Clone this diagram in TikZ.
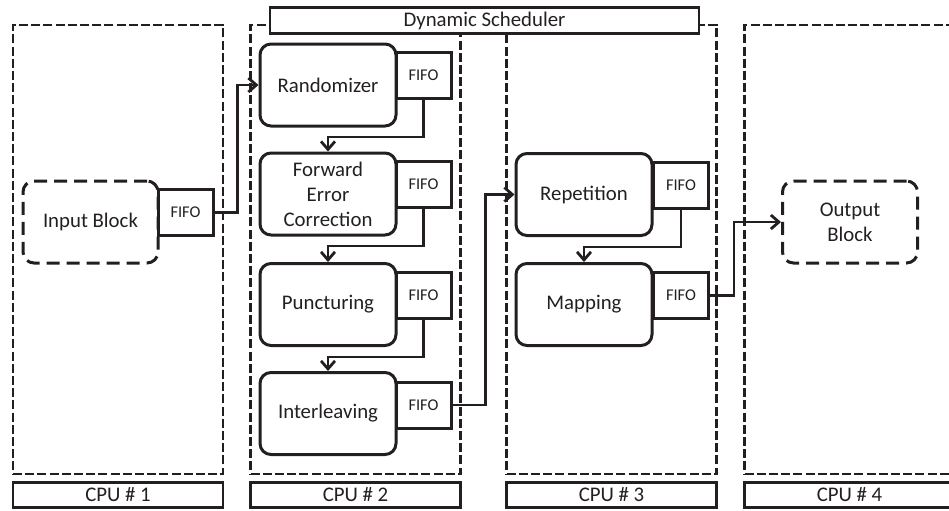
\documentclass[tikz,border=0pt]{standalone}
\usepackage{fontspec}
\setmainfont{Carlito}
\usepackage{tikz}
\usetikzlibrary{arrows.meta,positioning}
\definecolor{ink}{RGB}{35,31,32}

\begin{document}
\begin{tikzpicture}[x=0.5pt, y=-0.5pt, draw=ink, text=ink,
    font=\fontsize{10.4}{12.5}\selectfont,
    cpubox/.style={draw, line width=1.4pt, dash pattern=on 4.5pt off 1.6pt, minimum width=105pt, minimum height=224.5pt, inner sep=0pt},
    cpulabel/.style={draw, line width=1.4pt, fill=white, minimum width=105pt, minimum height=12.5pt, inner sep=0pt},
    block/.style={draw, line width=1.5pt, rounded corners=5.5pt, minimum width=68pt, minimum height=41pt, align=center, inner sep=0pt},
    ioblock/.style={block, dash pattern=on 6.5pt off 3.5pt, minimum width=67.5pt},
    fifo/.style={draw, line width=1.5pt, fill=white, minimum width=27.5pt, minimum height=23pt, inner sep=0pt, font=\fontsize{8.2}{10}\selectfont},
    flow/.style={->, >={Straight Barb[length=4pt, width=7pt]}, line width=1.4pt, draw=ink}]
    \useasboundingbox (0,0) rectangle (949,510);

    % processors
    \node[cpubox] (col1) at (118,249.5) {};
    \node[cpubox] (col2) at (355.5,249.5) {};
    \node[cpubox] (col3) at (611.5,249.5) {};
    \node[cpubox] (col4) at (849.5,249.5) {};
    \node[cpulabel] (cpu1) at (118,495) {CPU \# 1};
    \node[cpulabel] (cpu2) at (355.5,495) {CPU \# 2};
    \node[cpulabel] (cpu3) at (611.5,495) {CPU \# 3};
    \node[cpulabel] (cpu4) at (849.5,495) {CPU \# 4};
    \node[cpulabel, minimum width=214.5pt, minimum height=13pt] (sched) at (484.5,20.5) {Dynamic Scheduler};

    % blocks
    \node[ioblock] (in) at (90.5,222) {Input Block};
    \node[fifo] (infifo) at (185.5,212.5) {FIFO};
    \node[block] (rand) at (328,85) {Randomizer};
    \node[fifo] (randfifo) at (423.5,75.5) {FIFO};
    \node[block] (fec) at (328,194) {Forward\\Error\\Correction};
    \node[fifo] (fecfifo) at (423.5,184.5) {FIFO};
    \node[block] (punc) at (328,304.5) {Puncturing};
    \node[fifo] (puncfifo) at (423.5,295.5) {FIFO};
    \node[block] (inter) at (328,413.5) {Interleaving};
    \node[fifo] (interfifo) at (423.5,405) {FIFO};
    \node[block] (rep) at (584,194.5) {Repetition};
    \node[fifo] (repfifo) at (681,185.5) {FIFO};
    \node[block] (map) at (584,304.5) {Mapping};
    \node[fifo] (mapfifo) at (681,295.5) {FIFO};
    \node[ioblock] (out) at (850,222) {Output\\Block};

    % data flow
    \draw[flow] (infifo.east) -- ++(23,0) |- (rand.west);
    \draw[flow] (randfifo.south) -- ++(0,37) -| (fec.north);
    \draw[flow] (fecfifo.south) -- ++(0,37) -| (punc.north);
    \draw[flow] (puncfifo.south) -- ++(0,37) -| (inter.north);
    \draw[flow] (interfifo.east) -- ++(33,0) |- (rep.west);
    \draw[flow] (repfifo.south) -- ++(0,37) -| (map.north);
    \draw[flow] (mapfifo.east) -- ++(24,0) |- (out.west);
\end{tikzpicture}
\end{document}
